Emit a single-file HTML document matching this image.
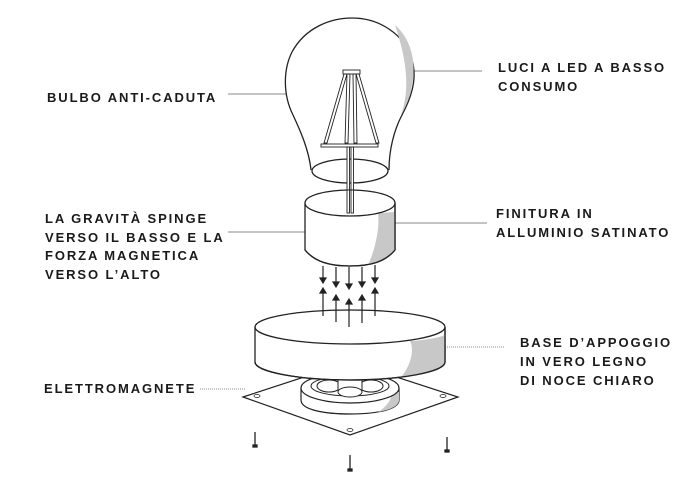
<!DOCTYPE html>
<html><head><meta charset="utf-8"><style>
html,body{margin:0;padding:0;background:#fff}
svg{display:block}
text{font-family:"Liberation Sans",sans-serif;font-weight:bold;font-size:13px;letter-spacing:1.9px;fill:#1a1a1a}
</style></head><body>
<svg width="700" height="490" viewBox="0 0 700 490" xmlns="http://www.w3.org/2000/svg">
<g stroke="#888" stroke-width="1" fill="none">
<line x1="228" y1="94" x2="286" y2="94"/>
<line x1="228" y1="232" x2="305" y2="232"/>
<line x1="413" y1="71" x2="482" y2="71"/>
<line x1="395" y1="223" x2="487" y2="223"/>
<line x1="445" y1="347" x2="505" y2="347" stroke-dasharray="1 1"/>
<line x1="200" y1="389" x2="245" y2="389" stroke-dasharray="1 1"/>
</g>
<!-- bulb -->
<path d="M311,170 C309,150 300,130 293,115 C283,95 283,70 292,52 C305,28 330,18 352,18 C380,18 405,35 412,60 C418,80 410,100 402,115 C394,130 389,150 389,170" fill="#fff" stroke="#222" stroke-width="1.3"/>
<path d="M395,25 C410,38 417,60 412,85 C410,98 405,108 401,115 C408,95 410,70 395,25Z" fill="#c8c8c8"/>
<ellipse cx="350" cy="171" rx="38" ry="12" fill="#fff" stroke="#222" stroke-width="1.3"/>
<!-- filament -->
<g stroke="#222" stroke-width="0.9" fill="#fff">
<rect x="343" y="70" width="17" height="4"/>
<path d="M344,74 L324,143 L327,143 L347,74Z"/>
<path d="M359,74 L379,143 L376,143 L356,74Z"/>
<path d="M347,74 L345,143 L348,143 L350,74Z"/>
<path d="M353,74 L354,143 L357,143 L356,74Z"/>
<rect x="321" y="144" width="57" height="3"/>
<rect x="347" y="147" width="2.5" height="66"/>
<rect x="351" y="147" width="2.5" height="66"/>
</g>
<!-- top cylinder -->
<path d="M305,203 L305,250 C315,262 330,266 350,266 C370,266 385,262 395,250 L395,203" fill="#fff" stroke="#222" stroke-width="1.3"/>
<path d="M395,212 L395,250 C388,258 378,263 368,265 C375,250 380,228 378,213 C385,213 390,212 395,212Z" fill="#c8c8c8"/>
<path d="M305,250 C315,262 330,266 350,266 C370,266 385,262 395,250 M395,203 L395,250" fill="none" stroke="#222" stroke-width="1.3"/>
<ellipse cx="350" cy="203" rx="45" ry="13" fill="#fff" stroke="#222" stroke-width="1.3"/>
<rect x="347" y="190" width="2.5" height="23" fill="#fff" stroke="#222" stroke-width="0.9"/>
<rect x="351" y="190" width="2.5" height="23" fill="#fff" stroke="#222" stroke-width="0.9"/>
<!-- arrows -->
<g stroke="#222" stroke-width="1.2" fill="#222">
<line x1="323" y1="266" x2="323" y2="279"/><path d="M320,278 L326,278 L323,283Z"/>
<line x1="336" y1="267" x2="336" y2="283"/><path d="M333,282 L339,282 L336,287Z"/>
<line x1="349" y1="267" x2="349" y2="285"/><path d="M346,284 L352,284 L349,289Z"/>
<line x1="362" y1="267" x2="362" y2="283"/><path d="M359,282 L365,282 L362,287Z"/>
<line x1="375" y1="265" x2="375" y2="279"/><path d="M372,278 L378,278 L375,283Z"/>
<line x1="323" y1="292" x2="323" y2="315"/><path d="M320,293 L326,293 L323,288Z"/>
<line x1="336" y1="299" x2="336" y2="322"/><path d="M333,300 L339,300 L336,295Z"/>
<line x1="349" y1="303" x2="349" y2="327"/><path d="M346,304 L352,304 L349,299Z"/>
<line x1="362" y1="299" x2="362" y2="323"/><path d="M359,300 L365,300 L362,295Z"/>
<line x1="375" y1="292" x2="375" y2="315"/><path d="M372,293 L378,293 L375,288Z"/>
</g>
<!-- screws -->
<g stroke="#222" stroke-width="1.3" fill="#222">
<line x1="255" y1="432" x2="255" y2="446"/><rect x="253" y="445" width="4" height="2"/>
<line x1="350" y1="455" x2="350" y2="470"/><rect x="348" y="469" width="4" height="2"/>
<line x1="447" y1="437" x2="447" y2="451"/><rect x="445" y="450" width="4" height="2"/>
</g>
<!-- plate -->
<path d="M243,397 L350,362 L458,397 L350,435Z" fill="#fff" stroke="#222" stroke-width="1.2"/>
<g fill="#fff" stroke="#222" stroke-width="0.8">
<ellipse cx="257" cy="396" rx="3" ry="1.5"/><ellipse cx="443" cy="396" rx="3" ry="1.5"/><ellipse cx="350" cy="430" rx="3" ry="1.5"/>
</g>
<!-- electromagnet -->
<path d="M301,388 L301,400 C301,410 325,414 350,414 C375,414 399,410 399,400 L399,388" fill="#fff" stroke="#222" stroke-width="1.2"/>
<path d="M399,392 L399,400 C399,406 390,410 378,412 C388,406 392,398 392,392Z" fill="#c8c8c8"/>
<ellipse cx="350" cy="388" rx="49" ry="15" fill="#fff" stroke="#222" stroke-width="1.2"/>
<ellipse cx="350" cy="386" rx="39" ry="10" fill="#fff" stroke="#222" stroke-width="1"/>
<g fill="#fff" stroke="#222" stroke-width="1">
<ellipse cx="329" cy="386" rx="12" ry="6"/><ellipse cx="371" cy="386" rx="12" ry="6"/>
<rect x="338" y="376" width="24" height="14"/>
<ellipse cx="350" cy="392" rx="12" ry="5"/>
</g>
<!-- base disc -->
<path d="M255,327 L255,362 C255,372 300,380 350,380 C400,380 445,372 445,362 L445,327" fill="#fff" stroke="#222" stroke-width="1.3"/>
<path d="M445,335 L445,362 C445,368 425,375 400,378 C410,368 415,350 410,341 C425,340 438,338 445,335Z" fill="#c8c8c8"/>
<path d="M255,362 C255,372 300,380 350,380 C400,380 445,372 445,362 L445,327" fill="none" stroke="#222" stroke-width="1.3"/>
<ellipse cx="350" cy="327" rx="95" ry="17" fill="#fff" stroke="#222" stroke-width="1.3"/>
<g stroke="#222" stroke-width="1.2">
<line x1="323" y1="310" x2="323" y2="316"/><line x1="336" y1="310" x2="336" y2="322"/><line x1="349" y1="310" x2="349" y2="327"/><line x1="362" y1="310" x2="362" y2="323"/><line x1="375" y1="310" x2="375" y2="316"/>
</g>
<!-- labels -->
<text x="47" y="102">BULBO ANTI-CADUTA</text>
<text x="45" y="223">LA GRAVITÀ SPINGE</text>
<text x="45" y="242">VERSO IL BASSO E LA</text>
<text x="45" y="260">FORZA MAGNETICA</text>
<text x="45" y="279">VERSO L’ALTO</text>
<text x="498" y="72">LUCI A LED A BASSO</text>
<text x="498" y="91">CONSUMO</text>
<text x="496" y="218">FINITURA IN</text>
<text x="496" y="237">ALLUMINIO SATINATO</text>
<text x="520" y="347">BASE D’APPOGGIO</text>
<text x="520" y="366">IN VERO LEGNO</text>
<text x="520" y="385">DI NOCE CHIARO</text>
<text x="44" y="393">ELETTROMAGNETE</text>
</svg>
</body></html>
